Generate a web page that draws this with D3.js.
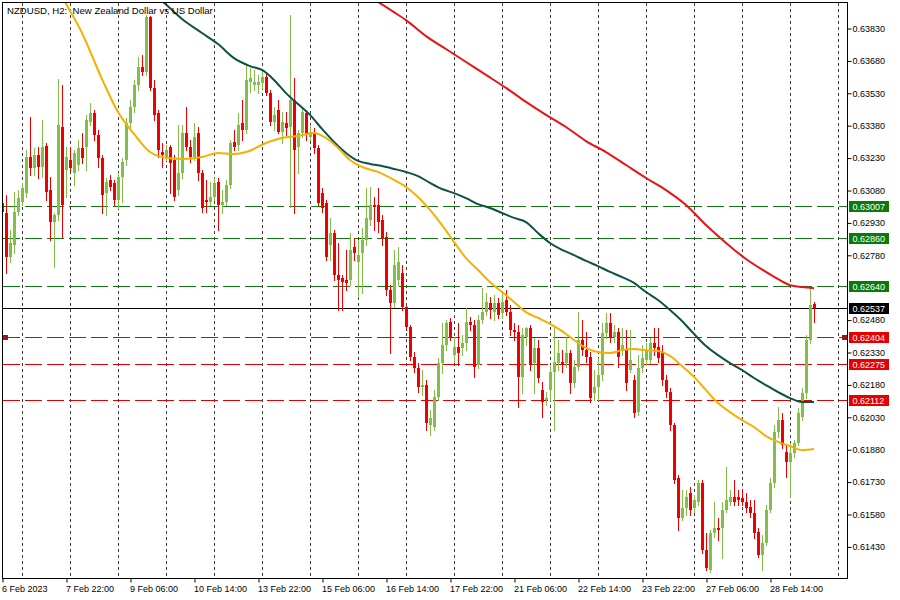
<!DOCTYPE html>
<html><head><meta charset="utf-8">
<script src="https://cdn.jsdelivr.net/npm/d3@7"></script>
<style>body{margin:0;background:#fff}text{font-family:"Liberation Sans",Arial,sans-serif}</style>
</head><body>
<svg id="c" width="900" height="600"></svg>
<script>
// ---- DATA ----
const title = "NZDUSD, H2:  New Zealand Dollar vs US Dollar";
const tickBars = [0,16,32,48,64,80,96,112,128,144,160,176,192];
const tickLabels = ["6 Feb 2023","7 Feb 22:00","9 Feb 06:00","10 Feb 14:00","13 Feb 22:00","15 Feb 06:00","16 Feb 14:00","17 Feb 22:00","21 Feb 06:00","22 Feb 14:00","23 Feb 22:00","27 Feb 06:00","28 Feb 14:00"];
const priceTicks = [0.63830,0.63680,0.63530,0.63380,0.63230,0.63080,0.62930,0.62780,0.62480,0.62330,0.62180,0.62030,0.61880,0.61730,0.61580,0.61430];
const levelsGreen = [0.63007,0.62860,0.62640];
const levelsRed = [0.62404,0.62275,0.62112];
const bidPrice = 0.62537;
const alertPrice = 0.62404;

const opens = [0.63022,0.62976,0.62772,0.62828,0.62980,0.63027,0.63068,0.63235,0.63184,0.63244,0.63189,0.63286,0.63082,0.62934,0.62967,0.63374,0.63175,0.63221,0.63161,0.63198,
0.63277,0.63281,0.63397,0.63439,0.63337,0.63230,0.63068,0.63129,0.63115,0.63036,0.63142,0.63221,0.63392,0.63467,0.63568,0.63652,0.63629,0.63883,0.63555,0.63439,
0.63258,0.63235,0.63281,0.63221,0.63082,0.63161,0.63346,0.63281,0.63235,0.63346,0.63161,0.63036,0.63027,0.63050,0.63119,0.63013,0.63027,0.63105,0.63305,0.63291,
0.63392,0.63360,0.63582,0.63568,0.63568,0.63578,0.63605,0.63531,0.63397,0.63453,0.63351,0.63392,0.63374,0.63499,0.63281,0.63346,0.63439,0.63328,0.63351,0.63277,
0.63068,0.63022,0.62828,0.62883,0.62689,0.62675,0.62666,0.62666,0.62818,0.62749,0.62791,0.62851,0.62943,0.63013,0.63013,0.62943,0.62865,0.62619,0.62559,0.62666,
0.62698,0.62541,0.62448,0.62309,0.62258,0.62170,0.62179,0.61994,0.61985,0.62124,0.62281,0.62365,0.62471,0.62318,0.62355,0.62351,0.62374,0.62471,0.62457,0.62272,
0.62480,0.62517,0.62559,0.62517,0.62559,0.62513,0.62573,0.62517,0.62434,0.62425,0.62216,0.62402,0.62443,0.62281,0.62351,0.62156,0.62110,0.62156,0.62240,0.62281,
0.62286,0.62281,0.62328,0.62189,0.62263,0.62388,0.62341,0.62309,0.62142,0.62170,0.62226,0.62420,0.62467,0.62402,0.62425,0.62341,0.62341,0.62249,0.62203,0.62054,
0.62258,0.62295,0.62295,0.62374,0.62355,0.62332,0.62203,0.62147,0.61994,0.61749,0.61564,0.61610,0.61679,0.61610,0.61638,0.61726,0.61415,0.61323,0.61494,0.61517,
0.61517,0.61601,0.61638,0.61661,0.61661,0.61656,0.61638,0.61615,0.61587,0.61499,0.61392,0.61448,0.61601,0.61726,0.61962,0.62017,0.61869,0.61823,0.61865,0.61911,
0.62031,0.62142,0.62388,0.62554];
const highs = [0.63045,0.63059,0.62897,0.63073,0.63082,0.63115,0.63268,0.63420,0.63277,0.63281,0.63406,0.63300,0.63142,0.62976,0.63596,0.63568,0.63281,0.63281,0.63267,0.63314,
0.63346,0.63430,0.63485,0.63453,0.63360,0.63244,0.63138,0.63152,0.63129,0.63161,0.63230,0.63416,0.63499,0.63592,0.63698,0.63707,0.63893,0.63888,0.63592,0.63453,
0.63300,0.63291,0.63291,0.63244,0.63383,0.63383,0.63467,0.63314,0.63392,0.63374,0.63175,0.63129,0.63119,0.63138,0.63138,0.63082,0.63129,0.63314,0.63360,0.63439,
0.63499,0.63661,0.63647,0.63638,0.63615,0.63638,0.63629,0.63545,0.63467,0.63499,0.63443,0.63443,0.63893,0.63601,0.63360,0.63462,0.63453,0.63383,0.63369,0.63291,
0.63092,0.63036,0.62953,0.62897,0.62837,0.62689,0.62804,0.62883,0.62860,0.62851,0.62906,0.63092,0.63096,0.63050,0.63092,0.62967,0.62888,0.62642,0.62804,0.62818,
0.62735,0.62550,0.62457,0.62332,0.62281,0.62249,0.62203,0.62064,0.62156,0.62304,0.62467,0.62480,0.62490,0.62402,0.62467,0.62411,0.62536,0.62494,0.62480,0.62504,
0.62629,0.62605,0.62587,0.62596,0.62582,0.62610,0.62619,0.62550,0.62467,0.62457,0.62443,0.62448,0.62457,0.62397,0.62388,0.62193,0.62147,0.62272,0.62448,0.62388,
0.62341,0.62402,0.62341,0.62295,0.62517,0.62480,0.62425,0.62332,0.62249,0.62304,0.62467,0.62513,0.62513,0.62457,0.62443,0.62443,0.62434,0.62434,0.62226,0.62318,
0.62365,0.62374,0.62397,0.62443,0.62443,0.62365,0.62226,0.62166,0.62003,0.61763,0.61693,0.61693,0.61707,0.61670,0.61740,0.61740,0.61494,0.61508,0.61638,0.61564,
0.61638,0.61800,0.61693,0.61740,0.61693,0.61693,0.61679,0.61647,0.61647,0.61517,0.61485,0.61624,0.61749,0.61994,0.62078,0.62050,0.61902,0.61911,0.61925,0.62073,
0.62166,0.62411,0.62633,0.62564];
const lows = [0.62967,0.62698,0.62749,0.62791,0.62967,0.63013,0.63050,0.63152,0.63152,0.63138,0.63142,0.63036,0.62851,0.62726,0.62943,0.62865,0.63050,0.63175,0.63105,0.63175,
0.63207,0.63175,0.63383,0.63314,0.63189,0.62976,0.62967,0.63082,0.63013,0.62999,0.63027,0.63198,0.63369,0.63443,0.63545,0.63615,0.63615,0.63545,0.63406,0.63235,
0.63189,0.63221,0.63068,0.63036,0.63059,0.63138,0.63267,0.63212,0.63221,0.63129,0.62980,0.62980,0.63013,0.63036,0.62897,0.62976,0.63013,0.63092,0.63267,0.63267,
0.63314,0.63346,0.63536,0.63545,0.63531,0.63555,0.63522,0.63383,0.63360,0.63346,0.63300,0.63337,0.63004,0.62976,0.63161,0.63328,0.63314,0.63314,0.63254,0.63013,
0.62980,0.62758,0.62758,0.62666,0.62527,0.62527,0.62619,0.62642,0.62758,0.62587,0.62605,0.62828,0.62920,0.62897,0.62888,0.62828,0.62596,0.62328,0.62541,0.62642,
0.62527,0.62434,0.62295,0.62240,0.62147,0.62133,0.61971,0.61948,0.61971,0.62110,0.62235,0.62341,0.62388,0.62286,0.62272,0.62318,0.62341,0.62434,0.62216,0.62258,
0.62467,0.62504,0.62490,0.62480,0.62490,0.62490,0.62504,0.62411,0.62388,0.62078,0.62142,0.62365,0.62249,0.62142,0.62193,0.62031,0.62087,0.62110,0.61971,0.62249,
0.62240,0.62263,0.62142,0.62170,0.62249,0.62318,0.62286,0.62101,0.62110,0.62110,0.62203,0.62397,0.62379,0.62379,0.62263,0.62318,0.62156,0.62240,0.62031,0.62041,
0.62240,0.62272,0.62281,0.62318,0.62286,0.62179,0.62124,0.61971,0.61726,0.61508,0.61554,0.61578,0.61578,0.61591,0.61624,0.61402,0.61323,0.61314,0.61476,0.61462,
0.61378,0.61591,0.61624,0.61624,0.61624,0.61624,0.61591,0.61568,0.61471,0.61383,0.61323,0.61439,0.61591,0.61707,0.61939,0.61888,0.61753,0.61661,0.61846,0.61902,
0.62017,0.62119,0.62374,0.62471];
const closes = [0.62980,0.62772,0.62837,0.62980,0.63045,0.63092,0.63235,0.63184,0.63244,0.63189,0.63281,0.63073,0.62934,0.62967,0.63383,0.63013,0.63235,0.63184,0.63254,0.63277,
0.63230,0.63406,0.63439,0.63337,0.63230,0.63059,0.63119,0.63096,0.63036,0.63142,0.63212,0.63392,0.63467,0.63568,0.63652,0.63629,0.63883,0.63555,0.63430,0.63267,
0.63244,0.63267,0.63207,0.63050,0.63161,0.63346,0.63281,0.63235,0.63328,0.63161,0.62999,0.63027,0.63050,0.63115,0.63013,0.63027,0.63105,0.63300,0.63281,0.63383,
0.63360,0.63592,0.63601,0.63582,0.63582,0.63605,0.63531,0.63397,0.63430,0.63351,0.63397,0.63369,0.63499,0.63267,0.63346,0.63443,0.63337,0.63351,0.63277,0.63022,
0.62999,0.62772,0.62883,0.62689,0.62666,0.62656,0.62652,0.62804,0.62791,0.62781,0.62851,0.62953,0.63013,0.63004,0.62934,0.62860,0.62619,0.62559,0.62735,0.62749,
0.62541,0.62448,0.62309,0.62258,0.62170,0.62179,0.62003,0.62027,0.62124,0.62281,0.62365,0.62467,0.62397,0.62355,0.62328,0.62374,0.62471,0.62457,0.62263,0.62480,
0.62517,0.62564,0.62527,0.62559,0.62504,0.62564,0.62517,0.62434,0.62425,0.62216,0.62411,0.62443,0.62272,0.62351,0.62212,0.62101,0.62119,0.62240,0.62286,0.62328,
0.62272,0.62328,0.62189,0.62263,0.62388,0.62341,0.62309,0.62119,0.62170,0.62226,0.62420,0.62467,0.62397,0.62425,0.62309,0.62365,0.62189,0.62295,0.62050,0.62258,
0.62304,0.62341,0.62374,0.62351,0.62304,0.62203,0.62147,0.61994,0.61740,0.61564,0.61610,0.61661,0.61601,0.61647,0.61726,0.61415,0.61332,0.61494,0.61517,0.61508,
0.61601,0.61647,0.61661,0.61638,0.61647,0.61638,0.61610,0.61587,0.61494,0.61392,0.61448,0.61601,0.61726,0.61962,0.62017,0.61902,0.61823,0.61865,0.61911,0.62050,
0.62142,0.62388,0.62550,0.62537];

// moving averages (bar index, value)
const maFastBars = [15,20,25,29,33,37,40,45,50,54,58,61,66,70,74,78,81,84,87,90,94,98,101,104,107,110,113,116,119,122,125,128,131,134,137,140,143,146,149,152,155,158,161,164,167,170,173,176,179,182,185,188,191,194,197,200,203];
const maFastVals = [0.63976,0.63809,0.63596,0.63443,0.63342,0.63258,0.63235,0.63226,0.63235,0.63254,0.63249,0.63258,0.63300,0.63323,0.63332,0.63346,0.63323,0.63277,0.63221,0.63189,0.63166,0.63129,0.63096,0.63050,0.62990,0.62920,0.62842,0.62767,0.62712,0.62656,0.62610,0.62564,0.62517,0.62490,0.62462,0.62429,0.62388,0.62351,0.62332,0.62328,0.62341,0.62346,0.62341,0.62337,0.62314,0.62267,0.62217,0.62156,0.62096,0.62054,0.62017,0.61985,0.61943,0.61916,0.61897,0.61878,0.61883];
const maMidBars = [38,40,45,50,54,58,62,65,68,71,74,77,80,83,86,89,92,95,98,101,104,107,110,113,116,119,122,125,128,131,134,137,140,143,146,149,152,155,158,161,164,167,170,173,176,179,182,185,188,191,194,197,200,203];
const maMidVals = [0.63985,0.63957,0.63874,0.63809,0.63758,0.63693,0.63656,0.63638,0.63592,0.63531,0.63480,0.63430,0.63365,0.63305,0.63254,0.63217,0.63203,0.63193,0.63180,0.63166,0.63147,0.63115,0.63087,0.63068,0.63045,0.63017,0.62999,0.62976,0.62953,0.62934,0.62883,0.62837,0.62805,0.62781,0.62754,0.62730,0.62703,0.62679,0.62652,0.62610,0.62573,0.62527,0.62476,0.62416,0.62360,0.62318,0.62281,0.62249,0.62212,0.62179,0.62147,0.62119,0.62101,0.62101];
const maSlowBars = [92,94,98,101,106,111,116,121,126,131,136,141,146,151,156,161,166,171,176,181,186,191,194,197,200,203];
const maSlowVals = [0.63976,0.63953,0.63906,0.63869,0.63795,0.63735,0.63675,0.63615,0.63555,0.63490,0.63430,0.63374,0.63309,0.63258,0.63198,0.63138,0.63082,0.63013,0.62920,0.62837,0.62763,0.62703,0.62670,0.62642,0.62633,0.62628];

// ---- DRAW ----
const svg = d3.select("#c");
const x = d3.scaleLinear().domain([0, 211.25]).range([2, 847]);
const y = d3.scaleLinear().domain([0.61286, 0.63962]).range([578, 0]);
const px = i => Math.round(x(i));
const py = v => Math.round(y(v));

const GREEN = "#83bd4a", RED = "#ee0000";

svg.append("defs").append("clipPath").attr("id","clip")
  .append("rect").attr("x",3).attr("y",3).attr("width",844).attr("height",575);

const plot = svg.append("g").attr("clip-path","url(#clip)");

// vertical grid
plot.selectAll("line.grid").data(d3.range(5, 212, 12)).join("line")
  .attr("x1", d => px(d)+0.5).attr("x2", d => px(d)+0.5)
  .attr("y1", 3).attr("y2", 578)
  .attr("stroke", "#3c3c3c").attr("stroke-width", 1).attr("stroke-dasharray", "3,3");

// level lines
plot.selectAll("line.lg").data(levelsGreen).join("line")
  .attr("x1", 3).attr("x2", 847).attr("y1", d => py(d)+0.5).attr("y2", d => py(d)+0.5)
  .attr("stroke", "#137a13").attr("stroke-dasharray", "17,5");
plot.selectAll("line.lr").data(levelsRed).join("line")
  .attr("x1", 3).attr("x2", 847).attr("y1", d => py(d)+0.5).attr("y2", d => py(d)+0.5)
  .attr("stroke", "#e00000").attr("stroke-dasharray", "17,5");
plot.append("line").attr("x1",3).attr("x2",847)
  .attr("y1", py(bidPrice)+0.5).attr("y2", py(bidPrice)+0.5).attr("stroke","#000");

// candles
const bars = d3.range(opens.length);
const col = i => closes[i] >= opens[i] ? GREEN : RED;
plot.selectAll("line.wick").data(bars).join("line")
  .attr("x1", i => px(i)+0.5).attr("x2", i => px(i)+0.5)
  .attr("y1", i => py(highs[i])).attr("y2", i => py(lows[i])+1)
  .attr("stroke", col).attr("stroke-width", 1);
plot.selectAll("rect.body").data(bars).join("rect")
  .attr("x", i => px(i)-1).attr("width", 3)
  .attr("y", i => Math.min(py(opens[i]), py(closes[i])))
  .attr("height", i => Math.max(1, Math.abs(py(opens[i]) - py(closes[i]))))
  .attr("fill", col);

// moving averages
function maLine(bs, vs, color) {
  const pts = bs.map((b, k) => [b, vs[k]]);
  plot.append("path").datum(pts)
    .attr("d", d3.line().x(d => x(d[0])).y(d => y(d[1])).curve(d3.curveMonotoneX))
    .attr("fill","none").attr("stroke", color).attr("stroke-width", 2);
}
maLine(maSlowBars, maSlowVals, "#e81414");
maLine(maMidBars, maMidVals, "#0d5345");
maLine(maFastBars, maFastVals, "#f7b000");

// alert markers
[3, 842].forEach(xx => svg.append("rect").attr("x", xx).attr("y", py(alertPrice)-2)
  .attr("width", 5).attr("height", 5).attr("fill", "#a31616"));

// title
svg.append("text").attr("x", 7).attr("y", 13.5).attr("font-size", "9.6px").attr("fill","#000")
  .style("white-space","pre").text(title);

// frame
svg.append("rect").attr("x",2.5).attr("y",2.5).attr("width",845).attr("height",576)
  .attr("fill","none").attr("stroke","#000");

// right price axis
const ay = svg.append("g").attr("transform","translate(847.5,0)")
  .call(d3.axisRight(y).tickValues(priceTicks).tickSize(4).tickPadding(1).tickFormat(d3.format(".5f")));
ay.select(".domain").remove();
ay.selectAll("text").attr("font-size","9px").attr("font-family","Liberation Sans, Arial, sans-serif").attr("fill","#000");
ay.selectAll("line").attr("stroke","#000");

// level price boxes
const boxes = levelsGreen.map(v => [v, "#0b7a0b"])
  .concat([[bidPrice, "#000"]])
  .concat(levelsRed.map(v => [v, "#e80000"]));
const bg = svg.selectAll("g.box").data(boxes).join("g");
bg.append("rect").attr("x", 849).attr("y", d => py(d[0])-5).attr("width", 40).attr("height", 11)
  .attr("fill", d => d[1]);
bg.append("text").attr("x", 852.5).attr("y", d => py(d[0])+4).attr("font-size","9px")
  .attr("fill","#fff").text(d => d3.format(".5f")(d[0]));

// bottom time axis
const ax = svg.append("g").attr("transform","translate(0,578.5)")
  .call(d3.axisBottom(x).tickValues(tickBars).tickSize(4).tickFormat((d, k) => tickLabels[k]));
ax.select(".domain").remove();
ax.selectAll(".tick line").attr("transform","translate(0.5,0)").attr("stroke","#000");
ax.selectAll("text").attr("font-size","9px").attr("font-family","Liberation Sans, Arial, sans-serif")
  .attr("fill","#000").attr("text-anchor","start").attr("x",-0.5).attr("y",13.5).attr("dy",0);
</script>
</body></html>
